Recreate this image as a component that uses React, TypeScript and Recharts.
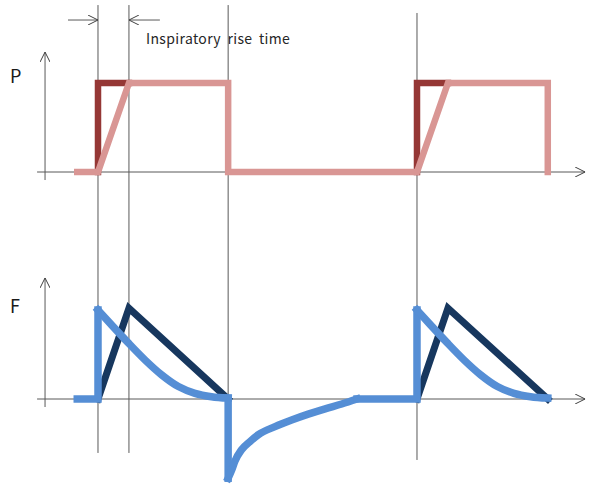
import React from 'react';
import { ComposedChart, Line, XAxis, YAxis } from 'recharts';

// time runs in breath units: 0 = start of inspiration, 10 = start of the next breath
const X_DOMAIN = [-3.072, 15.392];
// two stacked panels share one plot area, each with its own value axis
const P_DOMAIN = [-3.506, 1.933];
const F_DOMAIN = [-0.955, 4.483];

// pressure: square target wave and the ramped (rise time) wave
const pressureTarget1 = [
  { t: 0, v: 0 },
  { t: 0, v: 1 },
  { t: 0.97, v: 1 },
];
const pressureTarget2 = [
  { t: 10, v: 0 },
  { t: 10, v: 1 },
  { t: 10.97, v: 1 },
];
const pressureRamp = [
  { t: -0.65, v: 0 },
  { t: 0, v: 0 },
  { t: 0.97, v: 1 },
  { t: 4.08, v: 1 },
  { t: 4.08, v: 0 },
  { t: 10, v: 0 },
  { t: 10.97, v: 1 },
  { t: 14.1, v: 1 },
  { t: 14.1, v: 0 },
];

// flow with rise time: linear up, linear down
const flowRamp1 = [
  { t: 0, v: 0 },
  { t: 0.97, v: 1.02 },
  { t: 4.08, v: 0 },
];
const flowRamp2 = [
  { t: 10, v: 0 },
  { t: 10.97, v: 1.02 },
  { t: 14.1, v: 0 },
];

// flow with square pressure: instant peak, decelerating decay, expiratory dip
const flowStep1 = [
  { t: -0.65, v: 0 },
  { t: 0, v: 0 },
  { t: 0, v: 1 },
];
const flowDecay1 = [
  { t: 0, v: 1 },
  { t: 0.43, v: 0.83 },
  { t: 0.95, v: 0.63 },
  { t: 1.47, v: 0.44 },
  { t: 2.0, v: 0.27 },
  { t: 2.52, v: 0.14 },
  { t: 3.04, v: 0.064 },
  { t: 3.56, v: 0.026 },
  { t: 4.08, v: 0.01 },
];
const flowDrop = [
  { t: 4.08, v: 0.01 },
  { t: 4.08, v: -0.89 },
];
const flowExhale = [
  { t: 4.08, v: -0.89 },
  { t: 4.19, v: -0.8 },
  { t: 4.29, v: -0.7 },
  { t: 4.5, v: -0.57 },
  { t: 4.76, v: -0.48 },
  { t: 5.03, v: -0.4 },
  { t: 5.55, v: -0.31 },
  { t: 6.07, v: -0.236 },
  { t: 6.59, v: -0.17 },
  { t: 7.12, v: -0.11 },
  { t: 7.64, v: -0.056 },
  { t: 8.12, v: 0 },
];
const flowStep2 = [
  { t: 8.12, v: 0 },
  { t: 10, v: 0 },
  { t: 10, v: 1 },
];
const flowDecay2 = [
  { t: 10, v: 1 },
  { t: 10.43, v: 0.83 },
  { t: 10.95, v: 0.63 },
  { t: 11.47, v: 0.44 },
  { t: 12.0, v: 0.27 },
  { t: 12.52, v: 0.14 },
  { t: 13.04, v: 0.064 },
  { t: 13.56, v: 0.026 },
  { t: 14.1, v: 0.01 },
];

// thin guides (pressure axis units), axes of both panels, rise-time markers
const guides = [
  [{ t: 0, v: 1.876 }, { t: 0, v: -3.157 }],
  [{ t: 0.97, v: 1.876 }, { t: 0.97, v: -3.157 }],
  [{ t: 4.08, v: 1.876 }, { t: 4.08, v: -2.562 }],
  [{ t: 10, v: 1.787 }, { t: 10, v: -3.236 }],
];
const pAxes = [
  [{ t: -1.91, v: 0 }, { t: 15.27, v: 0 }],
  [{ t: -1.66, v: -0.09 }, { t: -1.66, v: 1.348 }],
];
const fAxes = [
  [{ t: -1.91, v: 0 }, { t: 15.27, v: 0 }],
  [{ t: -1.66, v: -0.09 }, { t: -1.66, v: 1.36 }],
];
const riseMarkers = [
  [{ t: -0.94, v: 1.708 }, { t: 0, v: 1.708 }],
  [{ t: 1.94, v: 1.708 }, { t: 0.97, v: 1.708 }],
];

const FONT = "'Noto Sans CJK KR', 'Noto Sans', sans-serif";

const thin = (data: { t: number; v: number }[], key: string, axis: string, arrow: boolean) => (
  <Line
    key={key}
    yAxisId={axis}
    data={data}
    dataKey="v"
    type="linear"
    stroke="#595959"
    strokeWidth={1}
    dot={false}
    activeDot={false}
    markerEnd={arrow ? 'url(#openArrow)' : undefined}
    isAnimationActive={false}
  />
);

const thick = (
  data: { t: number; v: number }[],
  key: string,
  axis: string,
  color: string,
  curve: 'linear' | 'monotone',
  width = 6.5,
) => (
  <Line
    key={key}
    yAxisId={axis}
    data={data}
    dataKey="v"
    type={curve}
    stroke={color}
    strokeWidth={width}
    strokeLinecap="square"
    dot={false}
    activeDot={false}
    isAnimationActive={false}
  />
);

export default function App() {
  return (
    <div style={{ position: 'absolute', left: 0, top: 0, width: 589, height: 484, background: '#fff' }}>
      <ComposedChart width={589} height={484} margin={{ top: 0, right: 0, bottom: 0, left: 0 }}>
        <defs>
          <marker
            id="openArrow"
            viewBox="0 0 10 10"
            refX="10"
            refY="5"
            markerWidth="10"
            markerHeight="10"
            markerUnits="userSpaceOnUse"
            orient="auto"
          >
            <path d="M0,0 L10,5 L0,10" fill="none" stroke="#404040" strokeWidth={1} />
          </marker>
        </defs>
        <XAxis type="number" dataKey="t" domain={X_DOMAIN} allowDataOverflow hide />
        <YAxis yAxisId="p" type="number" domain={P_DOMAIN} allowDataOverflow hide />
        <YAxis yAxisId="f" type="number" domain={F_DOMAIN} allowDataOverflow hide />

        {guides.map((g, i) => thin(g, `guide-${i}`, 'p', false))}
        {pAxes.map((g, i) => thin(g, `paxis-${i}`, 'p', true))}
        {fAxes.map((g, i) => thin(g, `faxis-${i}`, 'f', true))}
        {riseMarkers.map((g, i) => thin(g, `rise-${i}`, 'p', true))}

        {thick(pressureTarget1, 'pt1', 'p', '#953735', 'linear')}
        {thick(pressureTarget2, 'pt2', 'p', '#953735', 'linear')}
        {thick(pressureRamp, 'pr', 'p', '#D99694', 'linear')}

        {thick(flowRamp1, 'fr1', 'f', '#17375E', 'linear', 7)}
        {thick(flowRamp2, 'fr2', 'f', '#17375E', 'linear', 7)}
        {thick(flowStep1, 'fs1', 'f', '#558ED5', 'linear', 7.5)}
        {thick(flowDecay1, 'fd1', 'f', '#558ED5', 'monotone', 7.5)}
        {thick(flowDrop, 'fdrop', 'f', '#558ED5', 'linear', 7.5)}
        {thick(flowExhale, 'fex', 'f', '#558ED5', 'monotone', 7.5)}
        {thick(flowStep2, 'fs2', 'f', '#558ED5', 'linear', 7.5)}
        {thick(flowDecay2, 'fd2', 'f', '#558ED5', 'monotone', 7.5)}

        <text x={10} y={83} fontSize={18} fontFamily={FONT} fill="#1a1a1a">P</text>
        <text x={10} y={313} fontSize={18} fontFamily={FONT} fill="#1a1a1a">F</text>
        <text
          x={146}
          y={44}
          fontSize={14}
          fontFamily={FONT}
          letterSpacing={0.35}
          wordSpacing={3}
          fill="#262626"
        >
          Inspiratory rise time
        </text>
      </ComposedChart>
    </div>
  );
}
